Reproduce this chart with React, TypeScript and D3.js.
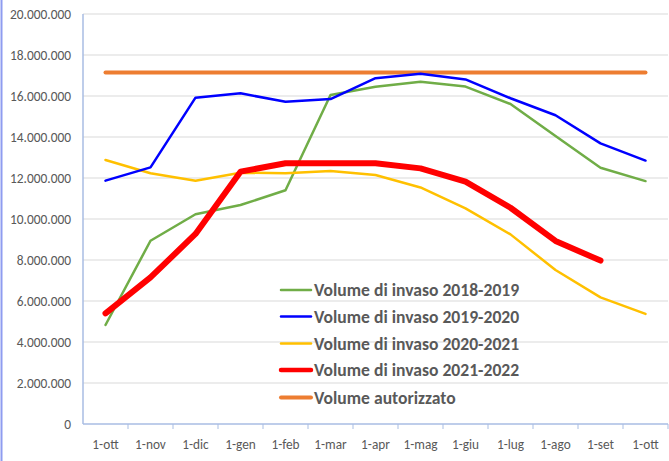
import React from "react";
import * as d3 from "d3";

const categories = ["1-ott","1-nov","1-dic","1-gen","1-feb","1-mar","1-apr","1-mag","1-giu","1-lug","1-ago","1-set","1-ott "];
const yTicks = [0,2000000,4000000,6000000,8000000,10000000,12000000,14000000,16000000,18000000,20000000];

const s1819 = [4830000,8940000,10230000,10680000,11400000,16050000,16450000,16700000,16460000,15610000,14050000,12500000,11850000];
const s1920 = [11870000,12520000,15920000,16130000,15720000,15850000,16870000,17080000,16810000,15890000,15060000,13690000,12850000];
const s2021 = [12880000,12230000,11870000,12260000,12230000,12340000,12150000,11540000,10520000,9250000,7510000,6180000,5370000];
const s2122: (number|null)[] = [5400000,7150000,9270000,12310000,12720000,12720000,12720000,12470000,11820000,10550000,8930000,7970000,null];
const autorizzato = [17150000,17150000,17150000,17150000,17150000,17150000,17150000,17150000,17150000,17150000,17150000,17150000,17150000];

const seriesNames = ["Volume di invaso 2018-2019","Volume di invaso 2019-2020","Volume di invaso 2020-2021","Volume di invaso 2021-2022","Volume autorizzato"];

const W = 669, H = 461;
const left = 83, right = 668, top = 14, bottom = 424;

export default function App() {
  const x = d3.scaleBand<string>().domain(categories).range([left, right]);
  const y = d3.scaleLinear().domain([0, 20000000]).range([bottom, top]);
  const cx = (i: number) => (x(categories[i]) as number) + x.bandwidth() / 2;
  const fmt = (v: number) => d3.format(",")(v).replace(/,/g, ".");
  const line = d3.line<number | null>()
    .defined(d => d !== null)
    .x((_, i) => cx(i))
    .y(d => y(d as number));

  const series = [
    { name: seriesNames[0], data: s1819, color: "#70ad47", w: 2.5 },
    { name: seriesNames[1], data: s1920, color: "#0000ff", w: 2.5 },
    { name: seriesNames[2], data: s2021, color: "#ffc000", w: 2.5 },
    { name: seriesNames[3], data: s2122, color: "#ff0000", w: 6 },
    { name: seriesNames[4], data: autorizzato, color: "#ed7d31", w: 4 },
  ];
  const drawOrder = [4, 0, 2, 1, 3];
  const legendY = [290, 316.5, 343.5, 370, 397.5];
  const font = "Carlito, Calibri, 'Liberation Sans', Arial, sans-serif";

  return (
    <div style={{ position: "absolute", left: 0, top: 0 }}>
      <svg width={W} height={H} style={{ display: "block", background: "#fff" }}>
        <line x1={1.5} y1={0} x2={1.5} y2={H} stroke="#8e9cf0" strokeWidth={2} />
        {yTicks.slice(1).map(t => (
          <line key={t} x1={left} x2={right} y1={y(t)} y2={y(t)} stroke="#d9d9d9" strokeWidth={1} />
        ))}
        <line x1={left} x2={left} y1={top} y2={bottom} stroke="#a8bde3" strokeWidth={1.5} />
        <line x1={left} x2={right} y1={bottom} y2={bottom} stroke="#a8bde3" strokeWidth={1.5} />
        {categories.map((c, i) => (
          <line key={"t" + i} x1={(x(c) as number) + x.bandwidth()} x2={(x(c) as number) + x.bandwidth()} y1={bottom} y2={bottom + 5} stroke="#a8bde3" strokeWidth={1} />
        ))}
        {yTicks.map(t => (
          <text key={"y" + t} x={71} y={y(t)} dy="0.35em" textAnchor="end" fontSize={13.4} fill="#595959" fontFamily={font}>{fmt(t)}</text>
        ))}
        {categories.map((c, i) => (
          <text key={"x" + i} x={cx(i)} y={444} dy="0.35em" textAnchor="middle" fontSize={13.3} fill="#595959" fontFamily={font}>{c.trim()}</text>
        ))}
        {drawOrder.map(k => (
          <path key={"s" + k} d={line(series[k].data as (number | null)[]) || ""} fill="none" stroke={series[k].color} strokeWidth={series[k].w} strokeLinejoin="round" strokeLinecap="round" />
        ))}
        {series.map((s, i) => (
          <g key={"l" + i}>
            <line x1={281} x2={311} y1={legendY[i]} y2={legendY[i]} stroke={s.color} strokeWidth={Math.min(s.w, 4.5)} strokeLinecap="round" />
            <text x={314} y={legendY[i]} dy="0.35em" fontSize={17.6} fontWeight="bold" fill="#595959" fontFamily={font}>{s.name}</text>
          </g>
        ))}
      </svg>
    </div>
  );
}
